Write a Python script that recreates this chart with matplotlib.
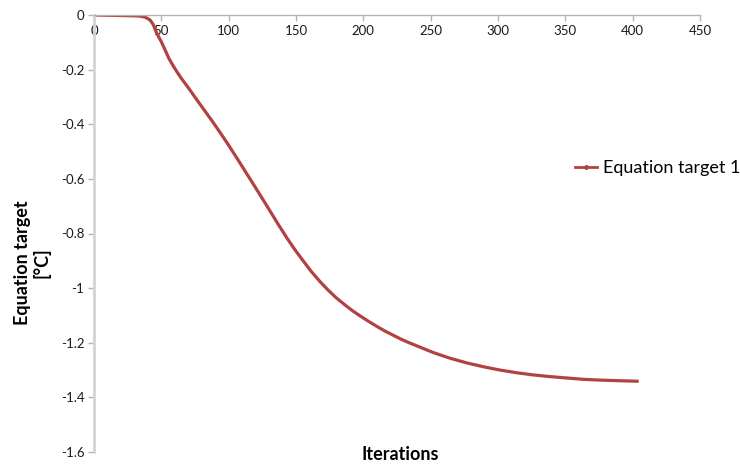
import matplotlib.pyplot as plt
from matplotlib.lines import Line2D

# convergence of equation target over solver iterations
iterations = [0, 10, 20, 30, 34, 38, 41.6, 44, 46.6, 50, 52.8, 55.5, 58.9, 62, 65,
              70, 76, 82, 88, 94, 100, 106, 112, 118.4, 125, 131, 137, 143.2,
              149, 155, 161.5, 168, 174, 180, 186, 192, 198, 204, 210, 216, 222,
              228, 234, 240, 252, 264.6, 277, 289.3, 301.5, 314.1, 326.5, 338.9,
              351, 363.6, 377, 390, 404.5]
target = [0, -0.001, -0.002, -0.003, -0.004, -0.008, -0.018, -0.035, -0.067, -0.098,
          -0.128, -0.158, -0.187, -0.211, -0.233,
          -0.266, -0.308, -0.349, -0.39, -0.433, -0.477, -0.523, -0.57, -0.62, -0.672,
          -0.72, -0.768, -0.816,
          -0.858, -0.898, -0.94, -0.977, -1.008, -1.036, -1.06, -1.083, -1.103,
          -1.122, -1.14, -1.157, -1.172,
          -1.187, -1.2, -1.212, -1.236, -1.257, -1.274, -1.288, -1.3, -1.31, -1.318,
          -1.324, -1.329, -1.334, -1.337, -1.339, -1.341]

ytick_vals = [0, -0.2, -0.4, -0.6, -0.8, -1.0, -1.2, -1.4, -1.6]
ytick_labels = ['0', '-0.2', '-0.4', '-0.6', '-0.8', '-1', '-1.2', '-1.4', '-1.6']
xtick_vals = [0, 50, 100, 150, 200, 250, 300, 350, 400, 450]

line_color = '#b04341'
plt.rcParams['font.family'] = ['Lato', 'DejaVu Sans']

fig = plt.figure(figsize=(7.4, 4.66), dpi=100)
ax = fig.add_axes([94 / 740, 1 - 452 / 466, 606 / 740, 437 / 466])

ax.plot(iterations, target, color=line_color, lw=2.3, solid_capstyle='butt')

ax.set_xlim(0, 450)
ax.set_ylim(-1.6, 0)
ax.set_xticks(xtick_vals)
ax.set_yticks(ytick_vals)
ax.set_yticklabels(ytick_labels)

# x axis crosses at y = 0, which is the top edge
ax.spines['bottom'].set_position(('data', 0))
ax.spines['bottom'].set_color('#b3b3b3')
ax.spines['bottom'].set_linewidth(1.0)
ax.spines['left'].set_color('#d4d4d4')
ax.spines['left'].set_linewidth(2.0)
ax.spines['top'].set_visible(False)
ax.spines['right'].set_visible(False)
ax.tick_params(axis='x', direction='out', length=4, width=1, color='#b3b3b3',
               labelsize=9.5, pad=3, labelcolor='#1a1a1a')
ax.tick_params(axis='y', direction='out', length=4, width=1, color='#b3b3b3',
               labelsize=9.5, pad=3, labelcolor='#1a1a1a')

fig.text(400 / 740, 1 - 455 / 466, 'Iterations', ha='center', va='center',
         fontsize=13, fontweight='bold')
fig.text(32 / 740, 1 - 263 / 466, 'Equation target\n[°C]', ha='center', va='center',
         rotation=90, fontsize=13, fontweight='bold', linespacing=1.1)

handle = Line2D([], [], color=line_color, lw=2, marker='o', markersize=2.5)
fig.legend([handle], ['Equation target 1'], loc='center left',
           bbox_to_anchor=(575 / 740, 1 - 168 / 466), frameon=False,
           fontsize=13, handlelength=1.2, handletextpad=0.33, borderaxespad=0,
           borderpad=0)

fig.savefig('out.png', dpi=100)
